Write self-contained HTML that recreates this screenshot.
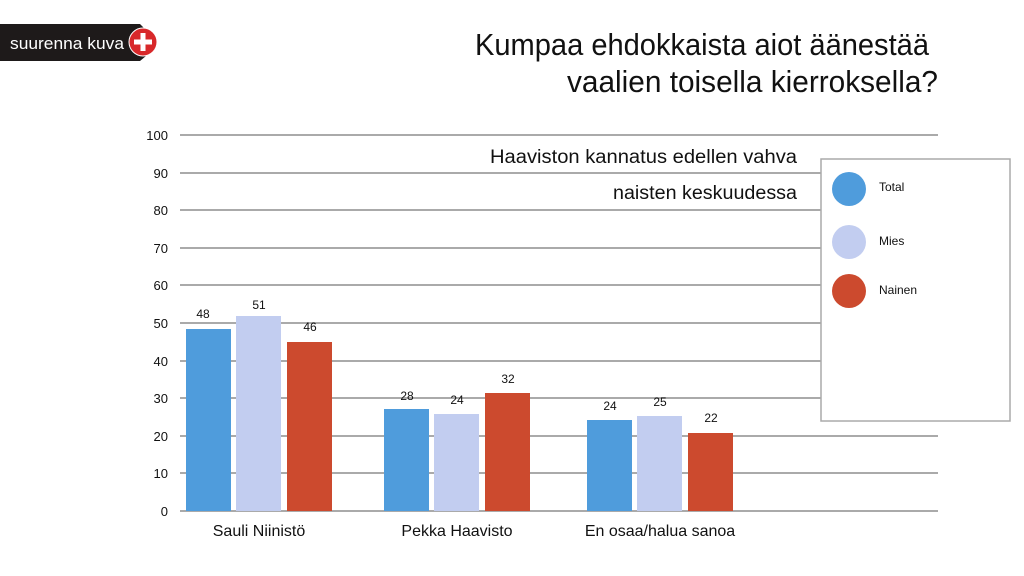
<!DOCTYPE html>
<html><head><meta charset="utf-8"><style>
html,body{margin:0;padding:0;background:#fff;width:1024px;height:576px;overflow:hidden}
svg{display:block}
text{font-family:"Liberation Sans Narrow","Liberation Sans",sans-serif;fill:#111}
</style></head><body>
<svg width="1024" height="576" viewBox="0 0 1024 576">
<rect width="1024" height="576" fill="#fff"/>
<!-- badge -->
<path d="M0 24 H140 L146 30 V56 L140 61 H0 Z" fill="#1e1a1a"/>
<text x="10" y="49" font-size="17" fill="#fff" style="fill:#fff" textLength="114" lengthAdjust="spacingAndGlyphs">suurenna kuva</text>
<circle cx="143" cy="42" r="14" fill="#d8282a" stroke="#fff" stroke-width="1"/>
<rect x="134" y="39.5" width="18" height="5" fill="#fff"/>
<rect x="140.5" y="33" width="5" height="18" fill="#fff"/>
<!-- title -->
<text x="929" y="55" font-size="31" text-anchor="end" textLength="454" lengthAdjust="spacingAndGlyphs">Kumpaa ehdokkaista aiot äänestää</text>
<text x="938" y="92" font-size="31" text-anchor="end" textLength="371" lengthAdjust="spacingAndGlyphs">vaalien toisella kierroksella?</text>
<!-- grid -->
<g stroke="#aaa" stroke-width="2">
<line x1="180" x2="938" y1="135" y2="135"/><line x1="180" x2="938" y1="173" y2="173"/>
<line x1="180" x2="938" y1="210" y2="210"/><line x1="180" x2="938" y1="248" y2="248"/>
<line x1="180" x2="938" y1="285" y2="285"/><line x1="180" x2="938" y1="323" y2="323"/>
<line x1="180" x2="938" y1="361" y2="361"/><line x1="180" x2="938" y1="398" y2="398"/>
<line x1="180" x2="938" y1="436" y2="436"/><line x1="180" x2="938" y1="473" y2="473"/>
<line x1="180" x2="938" y1="511" y2="511"/>
</g>
<g font-size="13" text-anchor="end">
<text x="168" y="140">100</text><text x="168" y="178">90</text><text x="168" y="215">80</text>
<text x="168" y="253">70</text><text x="168" y="290">60</text><text x="168" y="328">50</text>
<text x="168" y="366">40</text><text x="168" y="403">30</text><text x="168" y="441">20</text>
<text x="168" y="478">10</text><text x="168" y="516">0</text>
</g>
<!-- subtitle -->
<text x="797" y="163" font-size="19" text-anchor="end" textLength="307" lengthAdjust="spacingAndGlyphs">Haaviston kannatus edellen vahva</text>
<text x="797" y="199" font-size="19" text-anchor="end" textLength="184" lengthAdjust="spacingAndGlyphs">naisten keskuudessa</text>
<!-- bars -->
<g>
<rect x="186" y="329" width="45" height="182" fill="#4f9cdc"/>
<rect x="236" y="316" width="45" height="195" fill="#c2cdf0"/>
<rect x="287" y="342" width="45" height="169" fill="#cc4a2e"/>
<rect x="384" y="409" width="45" height="102" fill="#4f9cdc"/>
<rect x="434" y="414" width="45" height="97" fill="#c2cdf0"/>
<rect x="485" y="393" width="45" height="118" fill="#cc4a2e"/>
<rect x="587" y="420" width="45" height="91" fill="#4f9cdc"/>
<rect x="637" y="416" width="45" height="95" fill="#c2cdf0"/>
<rect x="688" y="433" width="45" height="78" fill="#cc4a2e"/>
</g>
<g font-size="12" text-anchor="middle">
<text x="203" y="318">48</text><text x="259" y="309">51</text><text x="310" y="331">46</text>
<text x="407" y="400">28</text><text x="457" y="404">24</text><text x="508" y="383">32</text>
<text x="610" y="410">24</text><text x="660" y="406">25</text><text x="711" y="422">22</text>
</g>
<g font-size="16" text-anchor="middle">
<text x="259" y="536">Sauli Niinistö</text>
<text x="457" y="536">Pekka Haavisto</text>
<text x="660" y="536">En osaa/halua sanoa</text>
</g>
<!-- legend -->
<rect x="821" y="159" width="189" height="262" fill="#fff" stroke="#aaa" stroke-width="1.5"/>
<circle cx="849" cy="189" r="17" fill="#4f9cdc"/>
<circle cx="849" cy="242" r="17" fill="#c2cdf0"/>
<circle cx="849" cy="291" r="17" fill="#cc4a2e"/>
<g font-size="12"><text x="879" y="191">Total</text><text x="879" y="245">Mies</text><text x="879" y="294">Nainen</text></g>
</svg>
</body></html>
